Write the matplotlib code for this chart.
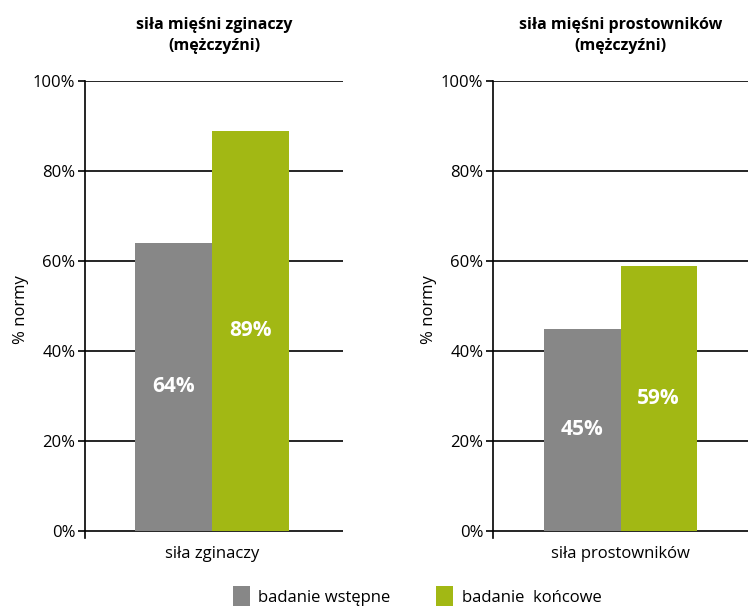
import matplotlib.pyplot as plt
import numpy as np

plt.rcParams['font.family'] = ['Open Sans', 'DejaVu Sans']

titles = ["siła mięśni zginaczy\n(mężczyźni)", "siła mięśni prostowników\n(mężczyźni)"]
categories = ["siła zginaczy", "siła prostowników"]
initial = [64, 45]
final = [89, 59]
series_names = ["badanie wstępne", "badanie  końcowe"]
yticks = [0, 20, 40, 60, 80, 100]
ytick_labels = ["0%", "20%", "40%", "60%", "80%", "100%"]

gray = "#878787"
green = "#a2b814"

fig = plt.figure(figsize=(7.48, 6.09), dpi=100)
W, H = 748, 609
axes_px = [(85, 343), (493, 748)]
xlims = [(-0.492, 0.508), (-0.5, 0.5)]
top, bottom = 81, 531
handles = None
for i, (x0, x1) in enumerate(axes_px):
    ext = 7
    ax = fig.add_axes([x0 / W, (H - bottom - ext) / H, (x1 - x0) / W, (bottom + ext - top) / H])
    ax.set_ylim(-100 * ext / (bottom - top), 100)
    ax.set_xlim(*xlims[i])
    bw = 0.3
    b1 = ax.bar(-bw / 2, initial[i], width=bw, color=gray, zorder=3)
    b2 = ax.bar(bw / 2, final[i], width=bw, color=green, zorder=3)
    handles = [b1, b2]
    for x, v in [(-bw / 2, initial[i]), (bw / 2, final[i])]:
        ax.text(x, v / 2, f"{v}%", ha='center', va='center', color='white',
                fontsize=15, fontweight='bold', zorder=4)
    for t in yticks:
        ax.axhline(t, color='black', lw=1.2, zorder=2)
    ax.set_yticks(yticks)
    ax.set_yticklabels(ytick_labels, fontsize=12)
    ax.tick_params(axis='y', length=5, width=1.2, pad=2)
    ax.set_xticks([0])
    ax.set_xticklabels([categories[i]], fontsize=12)
    ax.tick_params(axis='x', length=0, pad=6)
    for s in ['top', 'right', 'bottom']:
        ax.spines[s].set_visible(False)
    ax.spines['left'].set_linewidth(1.2)
    ax.set_ylabel("% normy", fontsize=12, labelpad=3)
    ax.set_title(titles[i], fontsize=11.5, fontweight='bold', pad=22, linespacing=1.45)

fig.legend(handles, series_names, loc='center', ncol=2,
           frameon=False, fontsize=12, handlelength=1.05, handleheight=1.4,
           columnspacing=2.7, handletextpad=0.5)
leg = fig.legends[0]
leg.set_bbox_to_anchor((417 / W, (H - 596) / H))
fig.savefig("out.png", dpi=100)
